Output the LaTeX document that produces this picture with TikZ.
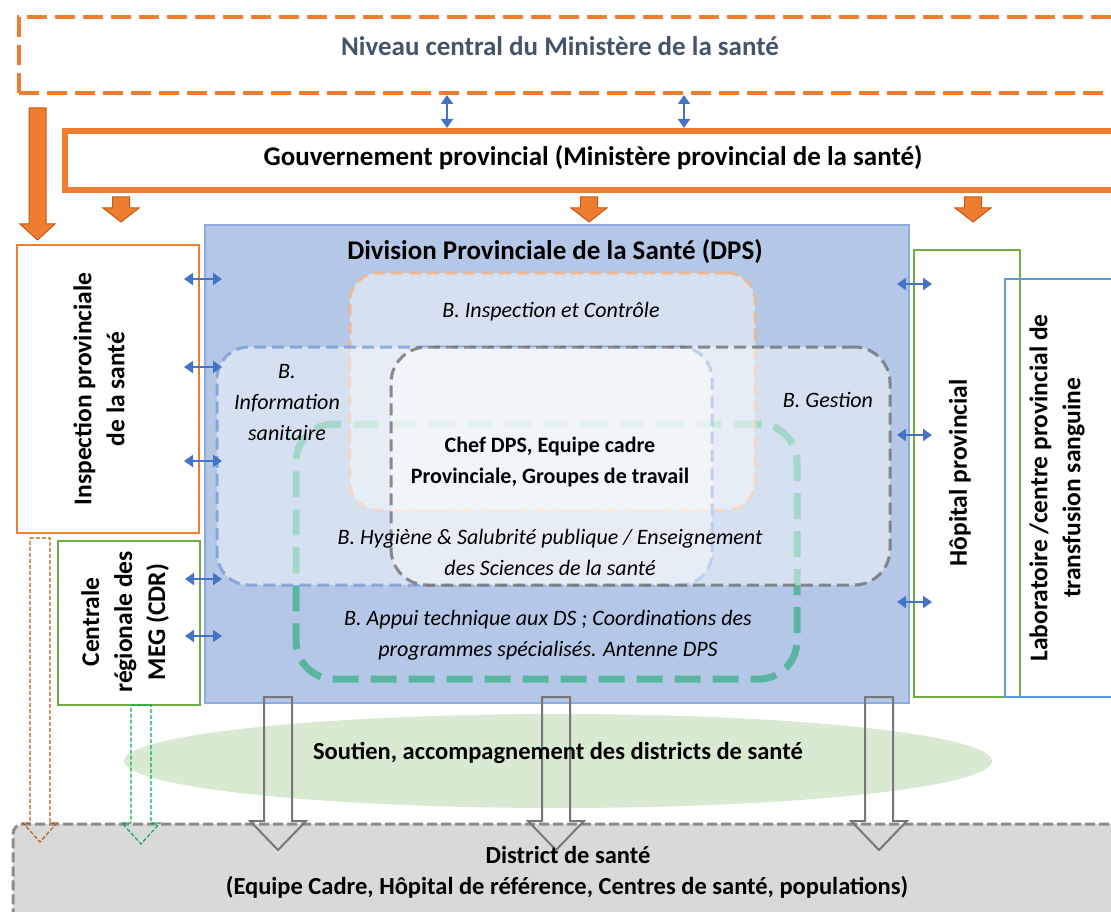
\documentclass[tikz,border=0pt]{standalone}
\usepackage{fontspec}
\setmainfont{Carlito}
\usetikzlibrary{arrows.meta,shapes.geometric,positioning}

\definecolor{orgline}{HTML}{ED7D31}
\definecolor{orgdark}{HTML}{C55A11}
\definecolor{orgpale}{HTML}{F4B183}
\definecolor{arrblue}{HTML}{4472C4}
\definecolor{dpsfill}{HTML}{B4C7E7}
\definecolor{dpsline}{HTML}{8FAADC}
\definecolor{infoline}{HTML}{7A9CD8}
\definecolor{greenA}{HTML}{70AD47}
\definecolor{greenB}{HTML}{00B050}
\definecolor{appui}{HTML}{3DB089}
\definecolor{blueL}{HTML}{5B9BD5}
\definecolor{slate}{HTML}{44546A}
\definecolor{sage}{HTML}{D9EAD3}
\definecolor{greyfill}{HTML}{D9D9D9}
\definecolor{greyline}{HTML}{8C8C8C}
\definecolor{gestline}{HTML}{707070}

\tikzset{
  pics/downblock/.style args={#1/#2/#3/#4}{code={
    \path[pic actions] (-#3,0) -- (#3,0) -- (#3,#1) -- (#4,#1) -- (0,#2)
      -- (-#4,#1) -- (-#3,#1) -- cycle;}},
}

\begin{document}
\begin{tikzpicture}[x=1pt,y=-1pt,
  every node/.style={outer sep=0pt},
  frame/.style={anchor=north west, inner sep=0pt},
  biarrow/.style={draw=arrblue, line width=2pt,
    {Triangle[length=9pt,width=12pt]}-{Triangle[length=9pt,width=12pt]}},
  blockorg/.style={fill=orgline, draw=orgdark, line width=1pt},
  hollow/.style={draw=greyline!85!black, line width=2pt},
  heavy/.style={font=\fontsize{27}{32}\selectfont\bfseries},
  sidetext/.style={rotate=90, align=center, font=\fontsize{25.5}{33}\selectfont\bfseries},
  branch/.style={align=center, font=\fontsize{22}{31}\selectfont\itshape},
  blanket/.style={frame, fill=white, fill opacity=0.45, line width=3pt,
    dash pattern=on 12pt off 6pt},
]
\useasboundingbox (0,0) rectangle (1111,912);
\clip (0,0) rectangle (1111,912);

% niveau central et gouvernement provincial
\node[frame, draw=orgline, line width=4pt, dash pattern=on 20pt off 8pt,
  minimum width=1110pt, minimum height=76pt] (central) at (19,17) {};
\node[heavy, text=slate] (centraltxt) at (560,46) {Niveau central du Ministère de la santé};
\node[frame, draw=orgline, line width=6pt,
  minimum width=1060pt, minimum height=59pt] (gouv) at (65,131) {};
\node[heavy] (gouvtxt) at (593,158) {Gouvernement provincial (Ministère provincial de la santé)};

\coordinate (v1) at (447,0);
\coordinate (v2) at (684,0);
\draw[biarrow, shorten <=2pt, shorten >=3pt] (central.south -| v1) -- (gouv.north -| v1);
\draw[biarrow, shorten <=2pt, shorten >=3pt] (central.south -| v2) -- (gouv.north -| v2);

\pic[blockorg] at (37.5,108) {downblock={116/132/8.5/17.5}};
\foreach \x in {121,589,973}
  \pic[blockorg] at (\x,197) {downblock={11/25/8.5/18}};

% district de sante et soutien
\node[frame, fill=greyfill, draw=greyline, line width=3pt, dash pattern=on 10pt off 4pt,
  rounded corners=10pt, minimum width=1120pt, minimum height=110pt] (district) at (13,824) {};
\node[ellipse, fill=sage, inner sep=0pt, minimum width=868pt, minimum height=94pt] (soutien) at (558,761) {};

% DPS
\node[frame, fill=dpsfill, draw=dpsline, line width=1.5pt,
  minimum width=704pt, minimum height=478pt] (dps) at (205,225) {};
\node[heavy] (dpstxt) at (555,252) {Division Provinciale de la Santé (DPS)};

% bureaux
\node[frame, draw=appui, draw opacity=.75, line width=7pt, dash pattern=on 26pt off 12pt,
  rounded corners=38pt, minimum width=501pt, minimum height=255pt] (bappui) at (296,424) {};
\node[blanket, draw=orgpale, draw opacity=.75, rounded corners=28pt,
  minimum width=405pt, minimum height=237pt] (binsp) at (350,273) {};
\node[blanket, draw=infoline, draw opacity=.8, rounded corners=32pt,
  minimum width=495pt, minimum height=238pt] (binfo) at (217,347) {};
\node[blanket, draw=gestline, draw opacity=.8, rounded corners=36pt,
  minimum width=499pt, minimum height=238pt] (bgest) at (391,347) {};

\node[branch] (binsptxt) at (551,312) {B. Inspection et Contrôle};
\node[branch] (binfotxt) at (287,403) {B.\\Information\\sanitaire};
\node[branch] (bgesttxt) at (828,400) {B. Gestion};
\node[align=center, font=\fontsize{22}{31}\selectfont\bfseries] (chef) at (550,462)
  {Chef DPS, Equipe cadre\\Provinciale, Groupes de travail};
\node[branch] (bhyg) at (550,552) {B. Hygiène \& Salubrité publique / Enseignement\\des Sciences de la santé};
\node[branch] (bappuitxt) at (548,635) {B. Appui technique aux DS ; Coordinations des\\programmes spécialisés. Antenne DPS};

% structures laterales
\node[frame, draw=orgline, line width=2pt, minimum width=182pt, minimum height=288pt] (insp) at (17,245) {};
\node[sidetext] (insptxt) at (99,389) {Inspection provinciale\\de la santé};
\node[frame, draw=greenA, line width=2pt, minimum width=142pt, minimum height=164pt] (cdr) at (58,541) {};
\node[sidetext] (cdrtxt) at (125,622) {Centrale\\régionale des\\MEG (CDR)};
\node[frame, draw=greenA, line width=2pt, minimum width=106pt, minimum height=447pt] (hop) at (914,250) {};
\node[sidetext] (hoptxt) at (960,473) {Hôpital provincial};
\node[frame, draw=blueL, line width=2pt, minimum width=120pt, minimum height=418pt] (labo) at (1005,279) {};
\node[sidetext] (labotxt) at (1057,488) {Laboratoire /centre provincial de\\transfusion sanguine};

\foreach \y in {279,367,461}{
  \coordinate (h) at (0,\y);
  \draw[biarrow, shorten <=-15pt, shorten >=-17pt] (insp.east |- h) -- (dps.west |- h);
}
\foreach \y in {579,636}{
  \coordinate (h) at (0,\y);
  \draw[biarrow, shorten <=-15pt, shorten >=-17pt] (cdr.east |- h) -- (dps.west |- h);
}
\foreach \y in {284,435,602}{
  \coordinate (h) at (0,\y);
  \draw[biarrow, shorten <=-12pt, shorten >=-18pt] (dps.east |- h) -- (hop.west |- h);
}

% fleches vers le district
\pic[draw=orgdark, line width=1.2pt, dash pattern=on 4pt off 2pt] at (40,538) {downblock={285/304/10/17}};
\pic[draw=greenB, line width=1.2pt, dash pattern=on 4pt off 2pt] at (141,705) {downblock={118/139/10/19}};
\foreach \x in {278,556,879}
  \pic[hollow] at (\x,697) {downblock={124/153/14/28}};

\node[font=\fontsize{24.5}{29}\selectfont\bfseries] (soutientxt) at (558,753) {Soutien, accompagnement des districts de santé};
\node[font=\fontsize{24.5}{29}\selectfont\bfseries] (districttxt) at (568,855) {District de santé};
\node[font=\fontsize{24.5}{29}\selectfont\bfseries] (districtsub) at (567,887) {(Equipe Cadre, Hôpital de référence, Centres de santé, populations)};
\end{tikzpicture}
\end{document}
